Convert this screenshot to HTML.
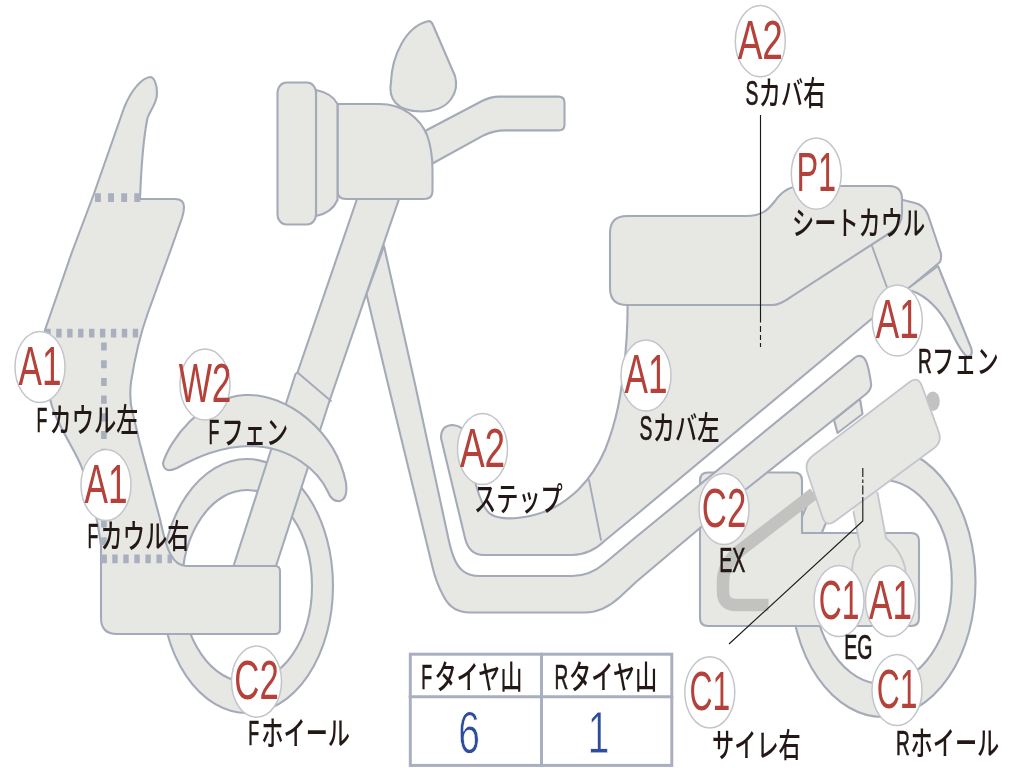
<!DOCTYPE html>
<html lang="ja">
<head>
<meta charset="utf-8">
<title>車両状態図</title>
<style>
html,body{margin:0;padding:0;background:#fff;width:1024px;height:768px;overflow:hidden}
svg{display:block;position:absolute;left:0;top:0;filter:blur(0.7px)}
.p{fill:#e7e8e3;stroke:#a4aab8;stroke-width:2.1;stroke-linejoin:round;stroke-linecap:round}
.q{fill:#e7e8e3;stroke:#c3c6cc;stroke-width:1.8;stroke-linejoin:round;stroke-linecap:round}
.w{fill:#fff;stroke:#a4aab8;stroke-width:2.1}
.l{fill:none;stroke:#a4aab8;stroke-width:1.9;stroke-linecap:round}
.m{fill:none;stroke:#c3c6cc;stroke-width:1.8;stroke-linecap:round}
.d{fill:none;stroke:#a9afbd;stroke-width:8.7}
.g{fill:none;stroke:#c2c2c1;stroke-width:13;stroke-linecap:butt;stroke-linejoin:round}
.k{fill:none;stroke:#1a1a1a;stroke-width:1.15}
.b{fill:#fff;stroke:#c2c5ca;stroke-width:1.5}
.bt{font-family:"Liberation Sans","Noto Sans CJK JP",sans-serif;font-size:37px;fill:#b5413b;text-anchor:middle}
.lt{font-family:"Liberation Sans","Noto Sans CJK JP",sans-serif;font-size:22.2px;fill:#231815;font-weight:500}
.la{stroke:#231815;stroke-width:0.45}
.tt{font-family:"Liberation Sans","Noto Sans CJK JP",sans-serif;font-size:22.2px;fill:#231815;text-anchor:middle}
.nt{font-family:"Liberation Sans","Noto Sans CJK JP",sans-serif;font-size:39px;fill:#2d4c9b;text-anchor:middle;stroke:#fff;stroke-width:0.5}
</style>
</head>
<body>
<svg width="1024" height="768" viewBox="0 0 1024 768">
<!-- WHEELS -->
<g id="wheels">
<ellipse class="p" cx="247" cy="586" rx="86" ry="127"/>
<ellipse class="w" cx="247" cy="586" rx="65" ry="96"/>
<ellipse class="p" cx="883" cy="582" rx="92.5" ry="135"/>
<ellipse class="w" cx="882.6" cy="582" rx="69.2" ry="102"/>
</g>
<!-- ENGINE BLOCK + EXHAUST -->
<g id="block">
<path class="p" d="M708,472.5 L794,472.5 Q802,472.5 802,480.5 L802,533 L911,533 Q919,533 919,541 L919,618 Q919,626 911,626 L708,626 Q700,626 700,618 L700,480.5 Q700,472.5 708,472.5 Z"/>
<path class="g" style="stroke-width:12.5" d="M814,493.5 L740,550.5 Q723,563.5 723,582 L723,592 Q723,605 736,605 L768.5,605"/>
</g>
<!-- FRAME -->
<g id="frame">
<path class="p" d="M384,246 L415,384 L447,532 C451,552 455,565 463,571 Q469,576 480,576 L572,576 Q590,576 605,563 L636,537 L855,357.5 Q860,354 864,358 Q868,362 871,383 Q872,389 866,394 L745,490 L636,582 L620,597 Q603,612.5 585,612.5 L470,612.5 Q452,612.5 444,597 Q436,583 432,565 L424,532 L388,384 L366.5,294 Z"/>
<path class="p" d="M834,420 L837.5,433 L862.5,414 L860,399 Z"/>
</g>
<!-- FORK -->
<g id="fork">
<path class="p" d="M357,199 L399,199 L329.5,401 L276,566 L233.5,566 L295.5,374 L297.5,372.5 Z"/>
<path class="l" d="M297.5,372.5 L331,401"/>
</g>
<!-- FRONT FENDER -->
<g id="fender">
<path class="p" d="M163,463 C170,440 200,398 245,395 C288,393 336,432 346,483 Q348,499 340,501 Q332,502 328,492 C318,470 290,447 252,446 C220,446 195,458 177,468 Q164,474 163,463 Z"/>
</g>
<!-- BODY -->
<g id="body">
<path class="p" d="M627.5,300 C628,330 626,350 624,367 C621,395 617,420 605,450 C598,466 590,478 578,490 C562,505 548,512 530,516 C515,519 500,519 492,515 C486,512 481,503 476,485 L466,436 Q464,426 453,425 Q441,425 441,438 L465,538 Q469,555 484,555 L572,555 Q590,555 605,540.5 L636,515 L940,262 Q942,257 940.5,252 L928,215 Q924,205 915,203 L895,198 L880,190 L700,250 Z"/>
<path class="p" d="M938,266 L971.5,349 Q973,357 967,356.5 Q961,352 952,333 C945,318 934,302 918,293.5 Q912,290 906,290 Z"/>
<path class="l" d="M589,480 L601,540"/>
<path class="l" d="M872,246 L887,287.5"/>
<path class="p" d="M610,233 Q610,216 627,216 L746,216 C762,216 768,210 775,201 C782,191 790,186 801,186 L889,186 Q902,186 902,199 L902,213 Q902,225 892,231.5 L791,296.8 Q780,305 772,305 L627,305 Q610,305 610,288 Z"/>
</g>
<!-- SHOCK -->
<g id="shock">
<ellipse cx="932.8" cy="401.3" rx="7" ry="9.8" fill="#c2c2c1"/>
<path d="M851,500 L860,546 C855,552 852,560 852,572 L852,624 L906,624 L906,575 C905,560 898,548 886,538 L876,483 Z" fill="#e7e8e3"/>
<path class="m" d="M853.5,512 L860,546 C855,552 852,560 852,572 L852,600 M906,600 L906,575 C905,560 898,548 886,538 L877.5,493"/>
<path class="q" d="M807.5,472.8 Q804.0,462.4 812.7,455.7 L909.3,382.2 Q918.0,375.5 921.8,385.8 L938.7,431.7 Q942.5,442.0 933.6,448.5 L834.9,521.2 Q826.0,527.7 822.5,517.3 Z"/>
</g>
<!-- HEAD -->
<g id="head">
<path class="p" d="M425,131 L483,100.5 Q491,96.6 499,96.6 L558.5,96.6 Q564.5,96.6 564.5,102.6 L564.5,124.4 Q564.5,130.4 558.5,130.4 L505,130.4 Q494,130.4 484,135.2 L432.5,163.5 Z"/>
<path class="p" d="M337.5,104 L380,104 C402,104 420,118 427,135 C431,146 432.5,158 432.5,170 L432.5,191 Q432.5,199 424,199 L346,199 Q337.5,199 337.5,191 Z"/>
<path class="p" d="M316,90 C326,92 334,97 337.5,104 L337.5,200 C334,208 326,214 316,216 Z"/>
<rect class="p" x="277.5" y="82.5" width="38.5" height="142" rx="9" ry="10"/>
<path class="p" d="M427,21.5 Q431,20 433,25 L455,76 C459,90 452,111.5 421,111.5 C396,111.5 388,98 391,82 C392,55 406,27 427,21.5 Z"/>
</g>
<!-- COWL -->
<g id="cowl">
<path class="p" d="M150,77 C154,77 157,84 157,93 C157,104 150,110 147.5,118 C143,140 141,172 140,199 L175,199 Q184,199 184,207 Q184,212 182,218 L170,252 L147.5,314 C140,335 135,357 131,382 C129.5,395 130.5,405 132.5,412 L140,444 L160,519 C164,538 167,549 171,555 Q176,565 186,566 L275,566 Q280,566 280,571 L280,629 Q280,634 275,634 L117,634 Q101,634 101,618 L101,545 C98,520 90,490 82,468 C76,452 64,436 54,412 C47,395 45,365 45,330 L72,252 L93.5,195 L124,108 C131,90 142,78 150,77 Z"/>
<path class="d" stroke-dasharray="5.9 7.2" d="M95,197.6 L140.5,197.6"/>
<path class="d" stroke-dasharray="5.4 5.53" d="M45.3,333.1 L138.2,333.1"/>
<path class="d" style="stroke-width:5.6" stroke-dasharray="8.1 9.6" d="M103.9,342.5 L103.9,563"/>
<path class="d" stroke-dasharray="5.4 5.65" d="M101.2,558.8 L172,558.8"/>
</g>
<!-- TABLE -->
<g id="table">
<rect x="410.3" y="654.2" width="261.5" height="111.2" fill="#fff" stroke="#a9afbe" stroke-width="3"/>
<path class="l" style="stroke-width:3;stroke:#a9afbe" d="M541.5,654 L541.5,765.4 M410,696.7 L672,696.7"/>
<text class="lt la" transform="translate(421.3,689) scale(0.8,1.6)">F</text><text class="lt" transform="translate(434.4,689) scale(1,1.46)">タイヤ山</text>
<text class="lt la" transform="translate(554.6,689) scale(0.86,1.6)">R</text><text class="lt" transform="translate(569.1,689) scale(1,1.46)">タイヤ山</text>
<text class="nt" transform="translate(469,753) scale(1,1.5)">6</text>
<text class="nt" transform="translate(598.5,753) scale(1,1.5)">1</text>
</g>
<!-- LEADERS -->
<g id="leaders">
<path class="k" d="M760.5,115 L760.5,322.5"/>
<path class="k" stroke-dasharray="6 3 5 3 4 3" d="M760.5,326 L760.5,347"/>
<path class="k" stroke-dasharray="9 2.5 3.5 2.5" d="M862.8,468 L862.8,499"/>
<path class="k" d="M862.8,499 L862.8,521 L729,644"/>
</g>
<!-- BADGES -->
<g id="badges">
<ellipse class="b" cx="760.3" cy="41.2" rx="25" ry="35.6"/><text class="bt" transform="translate(760.3,58.7) scale(1.0,1.51)">A2</text>
<ellipse class="b" cx="816.3" cy="173.7" rx="25" ry="35.6"/><text class="bt" transform="translate(816.3,191.2) scale(0.88,1.51)">P1</text>
<ellipse class="b" cx="897.3" cy="320.5" rx="25" ry="35.6"/><text class="bt" transform="translate(897.3,338.0) scale(0.95,1.51)">A1</text>
<ellipse class="b" cx="40" cy="367" rx="25" ry="35.6"/><text class="bt" transform="translate(40,384.5) scale(0.95,1.51)">A1</text>
<ellipse class="b" cx="205" cy="384.5" rx="25" ry="35.6"/><text class="bt" transform="translate(205,402.0) scale(0.95,1.51)">W2</text>
<ellipse class="b" cx="106" cy="485" rx="25" ry="35.6"/><text class="bt" transform="translate(106,502.5) scale(0.95,1.51)">A1</text>
<ellipse class="b" cx="482.5" cy="449" rx="25" ry="35.6"/><text class="bt" transform="translate(482.5,466.5) scale(1.0,1.51)">A2</text>
<ellipse class="b" cx="646" cy="375.5" rx="25" ry="35.6"/><text class="bt" transform="translate(646,393.0) scale(0.95,1.51)">A1</text>
<ellipse class="b" cx="256.5" cy="681.6" rx="25" ry="35.6"/><text class="bt" transform="translate(256.5,699.1) scale(0.94,1.51)">C2</text>
<ellipse class="b" cx="724" cy="509" rx="25" ry="35.6"/><text class="bt" transform="translate(724,526.5) scale(0.94,1.51)">C2</text>
<ellipse class="b" cx="839" cy="601" rx="25" ry="35.6"/><text class="bt" transform="translate(839,618.5) scale(0.86,1.51)">C1</text>
<ellipse class="b" cx="890.5" cy="601" rx="25" ry="35.6"/><text class="bt" transform="translate(890.5,618.5) scale(0.95,1.51)">A1</text>
<ellipse class="b" cx="897" cy="690" rx="25" ry="35.6"/><text class="bt" transform="translate(897,707.5) scale(0.86,1.51)">C1</text>
<ellipse class="b" cx="709.8" cy="692.3" rx="25" ry="35.6"/><text class="bt" transform="translate(709.8,709.8) scale(0.86,1.51)">C1</text>
</g>
<!-- LABELS -->
<g id="labels">
<text class="lt la" transform="translate(745.5,105) scale(0.87,1.6)">S</text><text class="lt" transform="translate(758.8,105) scale(1,1.46)">カバ右</text>
<text class="lt" transform="translate(792.0,234.5) scale(1,1.46)">シートカウル</text>
<text class="lt la" transform="translate(918.0,373) scale(0.86,1.6)">R</text><text class="lt" transform="translate(932.0,373) scale(1,1.46)">フェン</text>
<text class="lt la" transform="translate(36.5,432) scale(0.8,1.6)">F</text><text class="lt" transform="translate(49.6,432) scale(1,1.46)">カウル左</text>
<text class="lt la" transform="translate(208.5,444) scale(0.8,1.6)">F</text><text class="lt" transform="translate(221.6,444) scale(1,1.46)">フェン</text>
<text class="lt la" transform="translate(87.5,547.5) scale(0.8,1.6)">F</text><text class="lt" transform="translate(100.6,547.5) scale(1,1.46)">カウル右</text>
<text class="lt" transform="translate(474.0,511) scale(1,1.46)">ステップ</text>
<text class="lt la" transform="translate(639.5,440) scale(0.87,1.6)">S</text><text class="lt" transform="translate(652.8,440) scale(1,1.46)">カバ左</text>
<text class="lt la" transform="translate(248.2,745) scale(0.8,1.6)">F</text><text class="lt" transform="translate(261.3,745) scale(1,1.46)">ホイール</text>
<text class="lt la" transform="translate(719.3,572) scale(0.88,1.6)">EX</text>
<text class="lt la" transform="translate(844.3,659) scale(0.88,1.6)">EG</text>
<text class="lt" transform="translate(712.0,757) scale(1,1.46)">サイレ右</text>
<text class="lt la" transform="translate(896.0,755) scale(0.86,1.6)">R</text><text class="lt" transform="translate(910.5,755) scale(1,1.46)">ホイール</text>
</g>
</svg>
</body>
</html>
